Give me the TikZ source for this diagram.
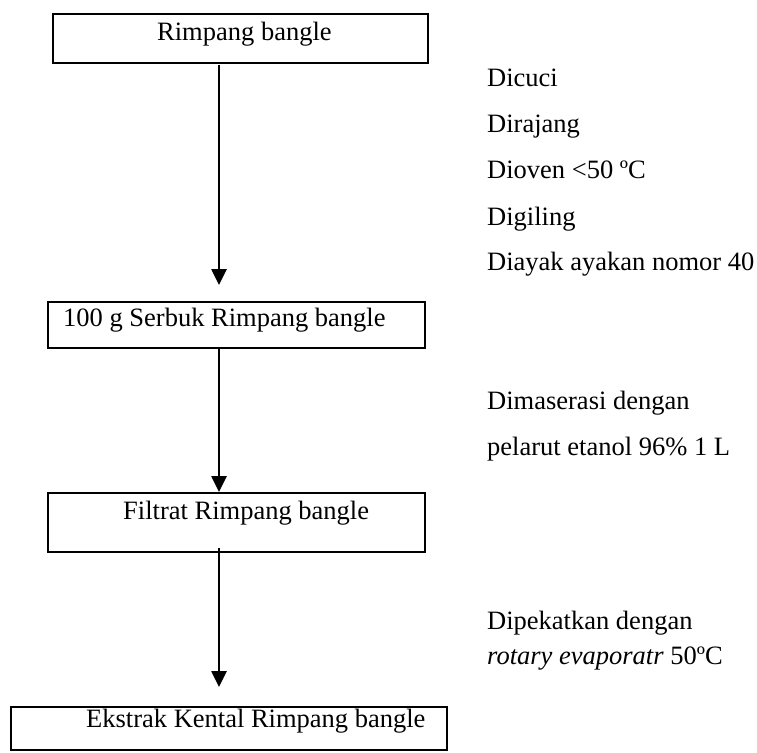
\documentclass[tikz,border=0pt]{standalone}
\usepackage{fontspec}
\setmainfont{Liberation Serif}
\usetikzlibrary{arrows.meta}
\begin{document}
\begin{tikzpicture}[x=1pt,y=-1pt,
  box/.style={draw,line width=2pt,rectangle,inner sep=0pt},
  lbl/.style={anchor=base west,inner sep=0pt,font=\fontsize{26.5}{30}\selectfont},
  flow/.style={line width=2.6pt,-{Triangle[length=16pt,width=15pt]}}]
\useasboundingbox (0,0) rectangle (757,752);

% process boxes
\node[box,minimum width=375pt,minimum height=48.4pt] (b1) at (240.5,38.5) {};
\node[box,minimum width=377pt,minimum height=46pt] (b2) at (236.5,325) {};
\node[box,minimum width=377pt,minimum height=59pt] (b3) at (236.5,522.5) {};
\node[box,minimum width=436pt,minimum height=43pt] (b4) at (229,728) {};

% box texts
\node[lbl] (t1) at (157,40.7) {Rimpang bangle};
\node[lbl] (t2) at (63,326.7) {100 g Serbuk Rimpang bangle};
\node[lbl] (t3) at (123,519) {Filtrat Rimpang bangle};
\node[lbl] (t4) at (86,727.5) {Ekstrak Kental Rimpang bangle};

% arrows between the boxes
\coordinate (a1s) at (219,65);
\coordinate (a1e) at (219,285);
\coordinate (a2s) at (219,348);
\coordinate (a2e) at (219,492);
\coordinate (a3s) at (219,548);
\coordinate (a3e) at (219,687);
\draw[flow] (a1s) -- (a1e);
\draw[flow] (a2s) -- (a2e);
\draw[flow] (a3s) -- (a3e);

% process steps
\node[lbl] (s1) at (487,86) {Dicuci};
\node[lbl] (s2) at (487,132) {Dirajang};
\node[lbl] (s3) at (487,178) {Dioven <50 ºC};
\node[lbl] (s4) at (487,225) {Digiling};
\node[lbl] (s5) at (487,270) {Diayak ayakan nomor 40};
\node[lbl] (m1) at (487,409) {Dimaserasi dengan};
\node[lbl] (m2) at (487,455) {pelarut etanol 96\%\ 1 L};
\node[lbl] (p1) at (487,629) {Dipekatkan dengan};
\node[lbl] (p2) at (487,664) {\textit{rotary evaporatr} 50ºC};
\end{tikzpicture}
\end{document}
